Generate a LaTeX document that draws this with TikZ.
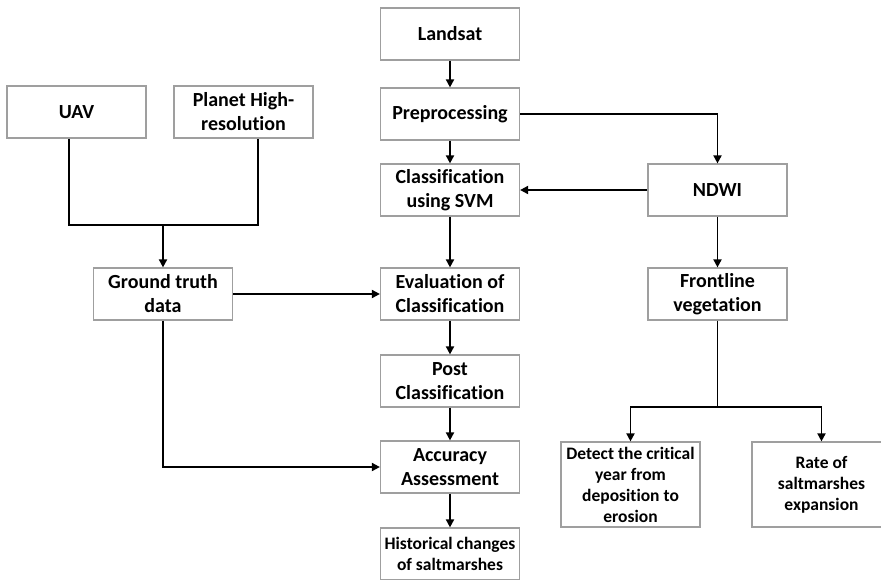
\documentclass[tikz,border=0pt]{standalone}
\usepackage{fontspec}
\setmainfont{Carlito}[Ligatures={NoCommon}]
\usetikzlibrary{arrows.meta}

\begin{document}
\begin{tikzpicture}[x=1pt,y=-1pt,->,>={Triangle[length=8pt,width=8pt]},line width=1.8pt,
    box/.style={rectangle,draw=gray!75,line width=1.2pt,fill=white,minimum width=139pt,
      minimum height=52pt,inner sep=2pt,align=center,font=\fontsize{20}{24}\selectfont\bfseries},
    tallbox/.style={box,font=\fontsize{17.5}{21}\selectfont\bfseries}]
  \useasboundingbox (0,0) rectangle (881,579);
  \clip (0,0) rectangle (881,579);
  % centre column
  \node[box] (land) at (450,34) {Landsat};
  \node[box] (prep) at (450,114) {Preprocessing};
  \node[box] (svm) at (450,190) {Classification\\using SVM};
  \node[box] (eval) at (450,294) {Evaluation of\\Classification};
  \node[box] (post) at (450,381) {Post\\Classification};
  \node[box] (acc) at (450,467) {Accuracy\\Assessment};
  \node[tallbox] (hist) at (450,554) {Historical changes\\of saltmarshes};
  % left column
  \node[box] (uav) at (76.5,112) {UAV};
  \node[box] (plan) at (243.5,112) {Planet High-\\resolution};
  \node[box] (ground) at (163,294) {Ground truth\\data};
  % right column
  \node[box] (ndwi) at (717.5,190) {NDWI};
  \node[box] (front) at (717.5,294) {Frontline\\vegetation};
  \node[tallbox,minimum height=85pt] (detect) at (630.5,484.5) {Detect the critical\\year from\\deposition to\\erosion};
  \node[tallbox,minimum height=85pt] (rate) at (821.5,484.5) {Rate of\\saltmarshes\\expansion};

  \coordinate (uavjoin) at (69,225);
  \coordinate (planjoin) at (258,225);
  \coordinate (fsplit) at (717.5,407);

  \draw (land) -- (prep);
  \draw (prep) -- (svm);
  \draw (svm) -- (eval);
  \draw (eval) -- (post);
  \draw (post) -- (acc);
  \draw (acc) -- (hist);
  \draw (prep.east) -| (ndwi.north);
  \draw (ndwi) -- (svm);
  \draw (ndwi) -- (front);
  \draw[-] (uav.south -| uavjoin) -- (uavjoin) -- (planjoin) -- (plan.south -| planjoin);
  \draw (ground.north |- uavjoin) -- (ground.north);
  \draw (ground) -- (eval);
  \draw (ground.south) |- (acc.west);
  \draw[-] (front.south) -- (fsplit);
  \draw (fsplit) -| (detect.north);
  \draw (fsplit) -| (rate.north);
\end{tikzpicture}
\end{document}
